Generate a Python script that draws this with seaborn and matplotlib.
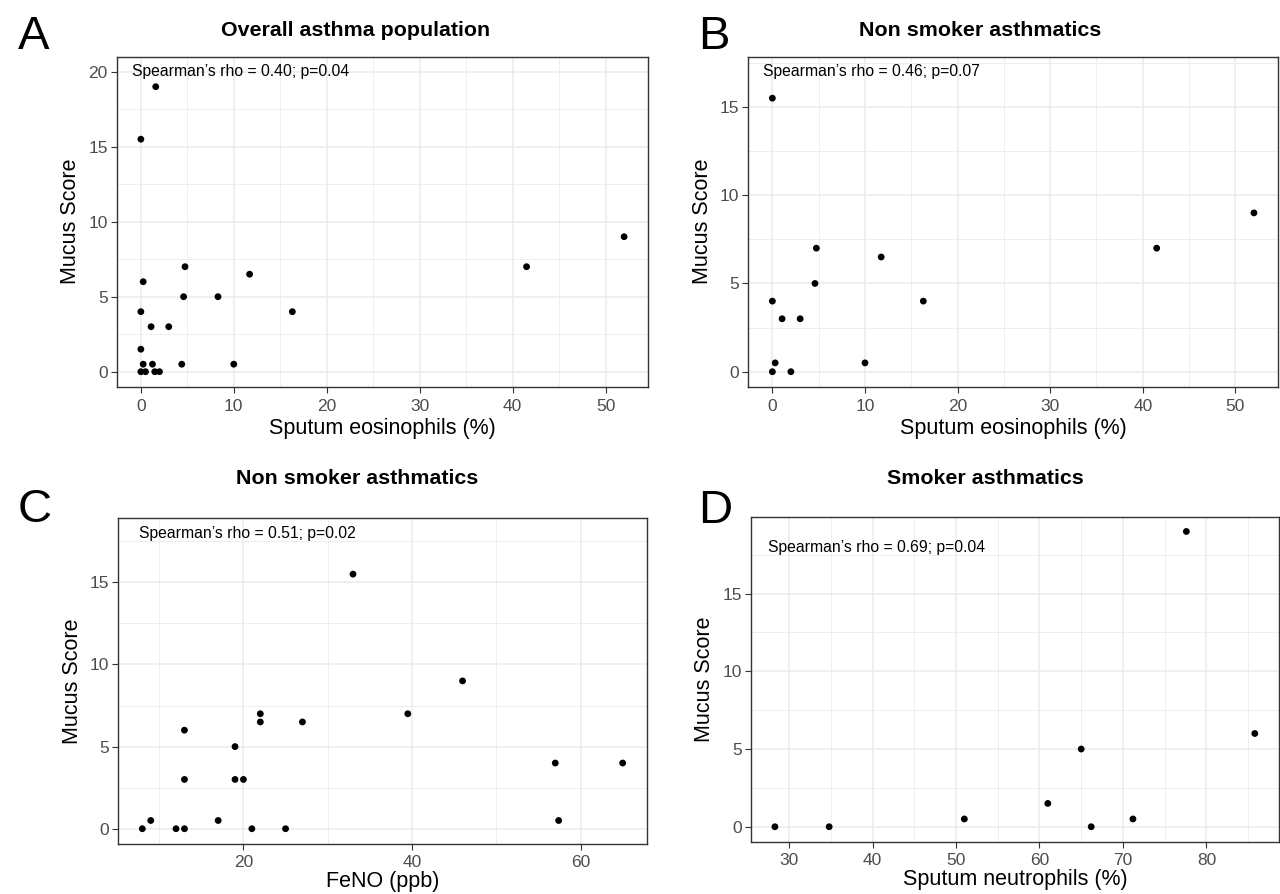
import matplotlib
matplotlib.use("Agg")
import matplotlib.pyplot as plt
import seaborn as sns
import pandas as pd
import numpy as np
from matplotlib.ticker import MultipleLocator

sns.set_theme(style="white")
plt.rcParams['font.family'] = ['Liberation Sans', 'DejaVu Sans']

# ---- Data ----
# Panel A: overall asthma population
a_eos = [1.6, 0.0, 0.25, 0.0, 0.0, 0.25, 1.25, 0.0, 0.5, 1.5, 2.0, 1.1, 3.0,
         4.75, 4.6, 4.4, 8.3, 11.7, 10.0, 16.3, 41.5, 52.0]
a_mucus = [19, 15.5, 6, 4, 1.5, 0.5, 0.5, 0, 0, 0, 0, 3, 3,
           7, 5, 0.5, 5, 6.5, 0.5, 4, 7, 9]
# Panel B: non smoker asthmatics (eosinophils)
b_eos = [0.0, 4.75, 11.75, 4.6, 0.0, 16.3, 1.05, 3.0, 0.3, 10.0, 0.0, 2.0, 41.5, 52.0]
b_mucus = [15.5, 7, 6.5, 5, 4, 4, 3, 3, 0.5, 0.5, 0, 0, 7, 9]
# Panel C: non smoker asthmatics (FeNO)
c_feno = [33, 22, 22, 27, 13, 19, 19, 20, 13, 8, 9, 12, 13, 17, 21, 25,
          46, 39.5, 57, 65, 57.4]
c_mucus = [15.5, 7, 6.5, 6.5, 6, 5, 3, 3, 3, 0, 0.5, 0, 0, 0.5, 0, 0,
           9, 7, 4, 4, 0.5]
# Panel D: smoker asthmatics (neutrophils)
d_neu = [28.3, 34.8, 51.0, 61.0, 65.0, 66.2, 71.2, 77.6, 85.8]
d_mucus = [0, 0, 0.5, 1.5, 5, 0, 0.5, 19, 6]

titles = ["Overall asthma population", "Non smoker asthmatics",
          "Non smoker asthmatics", "Smoker asthmatics"]
letters = ["A", "B", "C", "D"]
xlabels = ["Sputum eosinophils (%)", "Sputum eosinophils (%)",
           "FeNO (ppb)", "Sputum neutrophils (%)"]
annots = ["Spearman\u2019s rho = 0.40; p=0.04", "Spearman\u2019s rho = 0.46; p=0.07",
          "Spearman\u2019s rho = 0.51; p=0.02", "Spearman\u2019s rho = 0.69; p=0.04"]

W, H = 1280, 894
fig = plt.figure(figsize=(W / 100, H / 100), dpi=100)

def rect(l, r, t, b):
    return [l / W, 1 - b / H, (r - l) / W, (b - t) / H]

panels = [
    dict(x=a_eos, y=a_mucus, pos=rect(116.7, 648.3, 56.7, 386.7),
         xlim=(-2.6, 54.6), ylim=(-1.0, 21.0), xmaj=10, ymaj=5,
         ann=(-1.0, 20.0), title=(356, 30), letter=(18, 49), lp=3),
    dict(x=b_eos, y=b_mucus, pos=rect(748.3, 1278, 56.7, 386.7),
         xlim=(-2.6, 54.6), ylim=(-0.85, 17.85), xmaj=10, ymaj=5,
         ann=(-1.0, 17.0), title=(980, 30), letter=(698, 49), lp=3),
    dict(x=c_feno, y=c_mucus, pos=rect(118.3, 646.7, 518.3, 843.5),
         xlim=(5.15, 67.85), ylim=(-0.9, 18.9), xmaj=20, ymaj=5,
         ann=(7.6, 18.0), title=(357, 478), letter=(18, 522), lp=0.5),
    dict(x=d_neu, y=d_mucus, pos=rect(750.7, 1279, 516.7, 841.5),
         xlim=(25.4, 88.7), ylim=(-0.95, 19.95), xmaj=10, ymaj=5,
         ann=(27.5, 18.0), title=(985, 478), letter=(698, 523), lp=0.5),
]

for i, p in enumerate(panels):
    ax = fig.add_axes(p["pos"])
    df = pd.DataFrame({"x": p["x"], "y": p["y"]})
    sns.scatterplot(data=df, x="x", y="y", ax=ax, color="black", s=24,
                    edgecolor="none", zorder=3)
    ax.set_xlim(*p["xlim"])
    ax.set_ylim(*p["ylim"])
    ax.xaxis.set_major_locator(MultipleLocator(p["xmaj"]))
    ax.xaxis.set_minor_locator(MultipleLocator(p["xmaj"] / 2))
    ax.yaxis.set_major_locator(MultipleLocator(p["ymaj"]))
    ax.yaxis.set_minor_locator(MultipleLocator(p["ymaj"] / 2))
    ax.grid(which="major", color="#EBEBEB", linewidth=1.1, zorder=0)
    ax.grid(which="minor", color="#EBEBEB", linewidth=0.6, zorder=0)
    ax.set_axisbelow(True)
    for sp in ax.spines.values():
        sp.set_color("#333333")
        sp.set_linewidth(1.0)
    ax.tick_params(axis="both", which="major", length=4.5, width=0.8,
                   color="#333333", labelcolor="#4D4D4D", labelsize=12.5,
                   bottom=True, left=True)
    ax.tick_params(axis="x", which="major", pad=4.0)
    ax.tick_params(axis="y", which="major", pad=2)
    ax.tick_params(axis="both", which="minor", length=0, bottom=False, left=False)
    ax.set_xlabel(xlabels[i], fontsize=15.5, color="black", labelpad=p["lp"])
    ax.set_ylabel("Mucus Score", fontsize=15.5, color="black", labelpad=5)
    ax.text(p["ann"][0], p["ann"][1], annots[i], ha="left", va="center",
            fontsize=11.3, color="black")
    fig.text(p["title"][0] / W, 1 - p["title"][1] / H, titles[i], ha="center",
             va="center", fontsize=15.4, fontweight="bold", color="black")
    fig.text(p["letter"][0] / W, 1 - p["letter"][1] / H, letters[i], ha="left",
             va="baseline", fontsize=34, color="black")

fig.savefig("out.png", dpi=100, facecolor="white")
